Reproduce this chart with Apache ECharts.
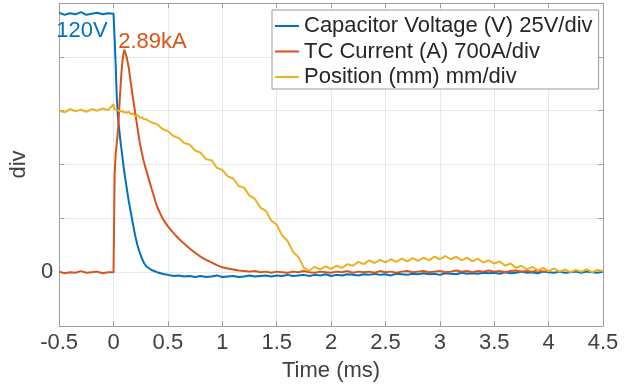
<!DOCTYPE html>
<html>
<head>
<meta charset="utf-8">
<script src="https://cdn.jsdelivr.net/npm/echarts@6/dist/echarts.min.js"></script>
<style>
html,body{margin:0;padding:0;background:#fff;}
#chart{width:630px;height:387px;}
</style>
</head>
<body>
<div id="chart"></div>
<script>
// time (ms)
const timeMs = [
  -0.5,-0.45,-0.4,-0.35,-0.3,-0.25,-0.2,-0.15,-0.1,-0.05,
  0,0.01,0.02,0.03,0.04,0.05,0.06,0.07,0.08,0.09,
  0.1,0.12,0.14,0.16,0.18,0.2,0.22,0.24,0.26,0.28,
  0.3,0.35,0.4,0.45,0.5,0.55,0.6,0.65,0.7,0.75,
  0.8,0.85,0.9,0.95,1.0,1.05,1.1,1.15,1.2,1.25,
  1.3,1.35,1.4,1.45,1.5,1.55,1.6,1.65,1.7,1.75,
  1.8,1.85,1.9,1.95,2.0,2.05,2.1,2.15,2.2,2.25,
  2.3,2.35,2.4,2.45,2.5,2.55,2.6,2.65,2.7,2.75,
  2.8,2.85,2.9,2.95,3.0,3.05,3.1,3.15,3.2,3.25,
  3.3,3.35,3.4,3.45,3.5,3.55,3.6,3.65,3.7,3.75,
  3.8,3.85,3.9,3.95,4.0,4.05,4.1,4.15,4.2,4.25,
  4.3,4.35,4.4,4.45,4.5
];
// Capacitor voltage (div, 25 V/div)
const capVoltage = [
  4.82,4.78,4.81,4.79,4.83,4.78,4.80,4.82,4.79,4.81,
  4.80,4.35,3.85,3.25,2.90,2.70,2.50,2.33,2.17,2.00,
  1.85,1.58,1.32,1.10,0.88,0.67,0.50,0.37,0.26,0.17,
  0.11,0.04,0.00,-0.03,-0.05,-0.07,-0.06,-0.08,-0.07,-0.09,
  -0.07,-0.09,-0.08,-0.06,-0.09,-0.08,-0.07,-0.09,-0.08,-0.06,
  -0.08,-0.07,-0.06,-0.08,-0.06,-0.07,-0.05,-0.07,-0.06,-0.05,
  -0.07,-0.05,-0.06,-0.04,-0.07,-0.05,-0.06,-0.04,-0.05,-0.06,
  -0.04,-0.05,-0.03,-0.05,-0.04,-0.06,-0.03,-0.04,-0.05,-0.03,
  -0.04,-0.02,-0.04,-0.03,-0.05,-0.02,-0.03,-0.04,-0.01,-0.03,
  -0.02,-0.03,-0.01,-0.02,-0.01,-0.03,0.00,-0.02,-0.01,0.01,
  -0.01,0.00,-0.02,0.01,0.00,-0.01,0.01,-0.01,0.00,0.01,
  -0.01,0.01,0.00,-0.01,0.01
];
// TC current (div, 700 A/div)
const tcCurrent = [
  0.01,-0.02,0.00,-0.01,0.02,-0.01,0.00,0.01,-0.02,0.00,
  0.00,1.80,2.20,2.40,2.60,2.95,3.30,3.62,3.88,4.05,
  4.13,4.00,3.80,3.50,3.22,2.95,2.68,2.42,2.22,2.04,
  1.90,1.55,1.22,1.00,0.85,0.73,0.62,0.53,0.44,0.36,
  0.29,0.23,0.18,0.13,0.09,0.07,0.05,0.03,0.02,0.01,
  0.02,0.00,0.01,-0.01,0.01,0.00,-0.01,0.01,0.00,0.02,
  0.00,-0.01,0.01,0.00,-0.01,0.01,0.00,0.02,-0.01,0.01,
  0.00,0.01,-0.01,0.02,0.00,0.01,-0.01,0.01,0.02,0.00,
  0.01,0.02,0.00,0.01,0.02,0.00,0.01,0.03,0.01,0.02,
  0.00,0.02,0.01,0.03,0.01,0.02,0.00,0.02,0.03,0.01,
  0.02,0.01,0.03,0.01,0.02,null,null,null,null,null,
  null,null,null,null,null
];
// Position (div)
const position = [
  3.00,2.97,3.03,2.99,3.02,2.98,3.03,3.00,3.04,3.01,
  3.12,3.02,3.05,3.01,3.04,3.00,3.03,2.99,3.01,2.98,
  3.00,2.96,2.98,2.93,2.95,2.90,2.92,2.87,2.88,2.84,
  2.84,2.78,2.75,2.66,2.62,2.53,2.49,2.40,2.37,2.26,
  2.22,2.10,2.08,1.94,1.90,1.78,1.74,1.60,1.57,1.42,
  1.36,1.20,1.14,0.96,0.88,0.68,0.58,0.38,0.28,0.08,
  0.03,0.10,0.05,0.11,0.06,0.12,0.08,0.15,0.12,0.19,
  0.15,0.22,0.17,0.23,0.18,0.24,0.19,0.25,0.20,0.26,
  0.21,0.27,0.22,0.29,0.24,0.30,0.24,0.29,0.22,0.27,
  0.20,0.25,0.18,0.22,0.16,0.20,0.12,0.16,0.08,0.12,
  0.05,0.10,0.03,0.08,0.02,0.07,0.01,0.05,0.00,0.04,
  0.01,0.05,0.00,0.04,0.02
];
const seriesNames = ['Capacitor Voltage (V) 25V/div','TC Current (A) 700A/div','Position (mm) mm/div'];
const seriesColors = ['#0072BD','#D95319','#EDB120'];
const voltageNote = {text:'120V', t:-0.49, v:4.49};
const currentNote = {text:'2.89kA', t:0.08, v:4.28};
const xMin = -0.5, xMax = 4.5, xStep = 0.5;
const yMin = -1, yMax = 5, yStep = 1;

const FONT = '"Liberation Sans", Arial, Helvetica, sans-serif';
const TXT = '#404040';
const AX = '#a0a0a0';

function pairs(arr){ return timeMs.map((t,i)=>[t,arr[i]]); }
function note(n, color){
  return {
    symbol:'circle', symbolSize:0, silent:true,
    data:[{coord:[n.t,n.v], name:n.text}],
    label:{show:true, formatter:'{b}', position:[0,0], align:'left', verticalAlign:'middle',
      offset:[-4,0], color:color, fontSize:22, fontFamily:FONT}
  };
}
const axLine = {show:true, onZero:false, lineStyle:{color:AX}};
const axTick = {show:true, inside:true, length:5, lineStyle:{color:AX}};

const chart = echarts.init(document.getElementById('chart'), null, {renderer:'canvas'});
chart.setOption({
  animation:false,
  backgroundColor:'#fff',
  grid:{left:54, right:27, top:3, bottom:60, containLabel:false},
  legend:{
    orient:'vertical', left:272, top:10,
    padding:[5,6,1,3], itemGap:3.5, itemWidth:24, itemHeight:2,
    borderColor:'#999', borderWidth:1, backgroundColor:'#fff',
    selectedMode:false,
    textStyle:{fontSize:22, fontFamily:FONT, color:'#262626', lineHeight:22},
    data:seriesNames.map(n=>({name:n, icon:'rect'}))
  },
  xAxis:[{
    type:'value', min:xMin, max:xMax, interval:xStep, position:'bottom',
    name:'Time (ms)', nameLocation:'middle', nameGap:34,
    nameTextStyle:{fontSize:22, fontFamily:FONT, color:TXT},
    axisLine:axLine, axisTick:axTick,
    axisLabel:{fontSize:22, fontFamily:FONT, color:TXT, margin:6},
    splitLine:{show:true, lineStyle:{color:'#e8e8e8'}}
  },{
    type:'value', min:xMin, max:xMax, interval:xStep, position:'top',
    axisLine:axLine, axisTick:axTick,
    axisLabel:{show:false}, splitLine:{show:false}
  }],
  yAxis:[{
    type:'value', min:yMin, max:yMax, interval:yStep, position:'left',
    name:'div', nameLocation:'middle', nameGap:18, nameRotate:90,
    nameTextStyle:{fontSize:22, fontFamily:FONT, color:TXT},
    axisLine:axLine, axisTick:axTick,
    axisLabel:{fontSize:22, fontFamily:FONT, color:TXT, margin:6,
      formatter:v=> v===0 ? '0' : ''},
    splitLine:{show:true, lineStyle:{color:'#e8e8e8'}}
  },{
    type:'value', min:yMin, max:yMax, interval:yStep, position:'right',
    axisLine:axLine, axisTick:axTick,
    axisLabel:{show:false}, splitLine:{show:false}
  }],
  series:[
    {name:seriesNames[0], type:'line', data:pairs(capVoltage), showSymbol:false,
      color:seriesColors[0], lineStyle:{width:2}, markPoint:note(voltageNote, seriesColors[0])},
    {name:seriesNames[1], type:'line', data:pairs(tcCurrent), showSymbol:false, connectNulls:false,
      color:seriesColors[1], lineStyle:{width:2}, markPoint:note(currentNote, seriesColors[1])},
    {name:seriesNames[2], type:'line', data:pairs(position), showSymbol:false,
      color:seriesColors[2], lineStyle:{width:2}}
  ]
});
</script>
</body>
</html>
